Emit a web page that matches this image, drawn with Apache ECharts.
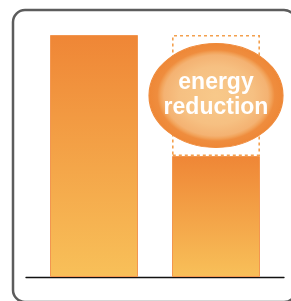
<!DOCTYPE html>
<html><head><meta charset="utf-8">
<script src="https://cdn.jsdelivr.net/npm/echarts@6/dist/echarts.min.js"></script>
<style>html,body{margin:0;padding:0;background:#fff}#c{width:291px;height:301px}</style>
</head><body><div id="c"></div>
<script>
var categories = ['Before', 'After'];
var energyValues = [100, 50];
var reductionValues = ['-', 50];
var annotationText = 'energy\nreduction';

var barGradient = {type:'linear',x:0,y:0,x2:0,y2:1,colorStops:[{offset:0,color:'#ef8636'},{offset:1,color:'#f8c059'}]};
var chart = echarts.init(document.getElementById('c'), null, {renderer:'canvas'});
chart.setOption({
  animation:false,
  graphic:[{type:'rect',shape:{x:13,y:10,width:283,height:292,r:12},style:{fill:'none',stroke:'#5c5c5c',lineWidth:2.5},z:0}],
  grid:[
    {left:26,right:7,top:35,bottom:24},
    {left:33,right:14,top:35,bottom:24}
  ],
  xAxis:[
    {gridIndex:0,type:'category',data:categories,axisLine:{lineStyle:{color:'#111',width:1.3}},axisTick:{show:false},axisLabel:{show:false}},
    {gridIndex:1,type:'category',data:categories,axisLine:{show:false},axisTick:{show:false},axisLabel:{show:false}}
  ],
  yAxis:[
    {gridIndex:0,type:'value',min:0,max:100,show:false,splitLine:{show:false}},
    {gridIndex:1,type:'value',min:0,max:100,show:false,splitLine:{show:false}}
  ],
  series:[
    {type:'bar',xAxisIndex:1,yAxisIndex:1,stack:'s',data:energyValues,barWidth:88,
     itemStyle:{color:barGradient,borderColor:'#f29650',borderWidth:1},z:3},
    {type:'bar',xAxisIndex:1,yAxisIndex:1,stack:'s',data:reductionValues,barWidth:88,
     itemStyle:{color:'rgba(255,255,255,0)',borderColor:'#f3a04e',borderWidth:1.6,borderType:[3,3]},z:3,
     markPoint:{
       symbol:'circle',symbolSize:[134,104],
       data:[{coord:['After',75]}],
       itemStyle:{
         color:{type:'radial',x:0.5,y:0.5,r:0.5,colorStops:[
           {offset:0,color:'#f8c98a'},{offset:0.55,color:'#f6c082'},{offset:0.77,color:'#f4b272'},{offset:0.82,color:'#f2a35a'},{offset:0.87,color:'#ef8d3e'},{offset:1,color:'#ee8736'}]},
         borderColor:'#ef8a3a',borderWidth:1
       },
       label:{show:true,formatter:annotationText,color:'#fff',fontFamily:'Liberation Sans',fontWeight:'bold',fontSize:23,lineHeight:25,position:'inside'},
       z:5
     }}
  ]
});
</script></body></html>
